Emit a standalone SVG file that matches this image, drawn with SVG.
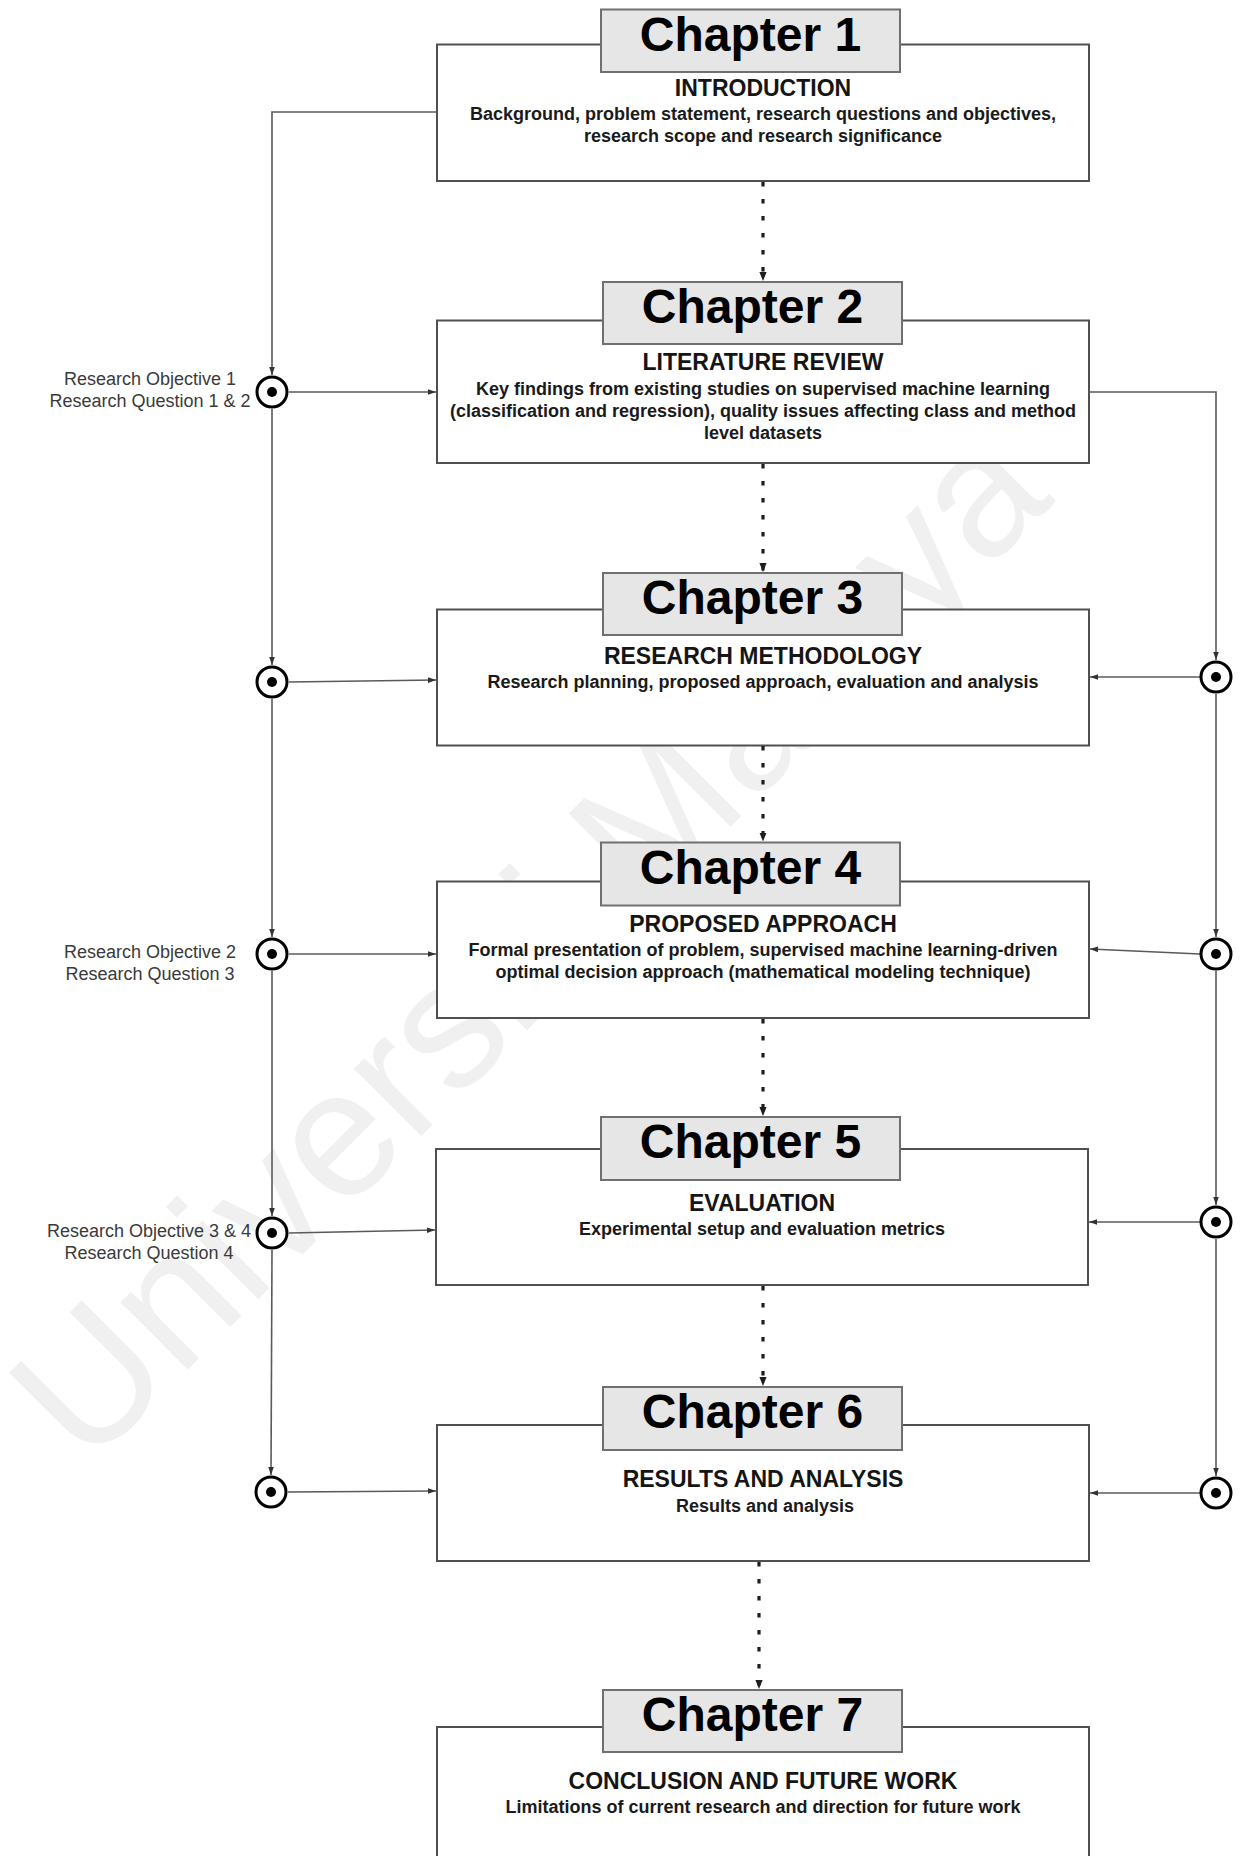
<svg xmlns="http://www.w3.org/2000/svg" width="1246" height="1856" viewBox="0 0 1246 1856">
  <defs>
    <style>
      .outer { fill: #ffffff; stroke: #505050; stroke-width: 2; }
      .head { fill: #e6e6e6; stroke: #707070; stroke-width: 2; }
      .chap { font-family: "Liberation Sans", Arial, sans-serif; font-weight: bold; font-size: 48px; fill: #000; text-anchor: middle; }
      .title { font-family: "Liberation Sans", Arial, sans-serif; font-weight: bold; font-size: 23px; fill: #151515; text-anchor: middle; }
      .body { font-family: "Liberation Sans", Arial, sans-serif; font-weight: bold; font-size: 18px; fill: #1a1a1a; text-anchor: middle; }
      .label { font-family: "Liberation Sans", Arial, sans-serif; font-size: 18px; fill: #3a3a3a; text-anchor: middle; }
      .wire { fill: none; stroke: #5a5a5a; stroke-width: 1.6; marker-end: url(#ah); }
      .flow { fill: none; stroke: #1e1e1e; stroke-width: 3.2; stroke-dasharray: 4.5 12.5; marker-end: url(#ahd); }
      .ring { fill: #fff; stroke: #000; stroke-width: 3; }
      .dot { fill: #000; }
      .mark { font-family: "Liberation Sans", Arial, sans-serif; font-size: 180px; fill: #f0f0f0; text-anchor: middle; }
    </style>
    <marker id="ah" viewBox="0 0 10 10" refX="10" refY="5" markerWidth="8" markerHeight="8" markerUnits="userSpaceOnUse" orient="auto">
      <path d="M0,1.5 L10,5 L0,8.5 z" fill="#333"/>
    </marker>
    <marker id="ahd" viewBox="0 0 10 10" refX="10" refY="5" markerWidth="9" markerHeight="9" markerUnits="userSpaceOnUse" orient="auto">
      <path d="M0,1 L10,5 L0,9 z" fill="#1e1e1e"/>
    </marker>
  </defs>

  <rect x="0" y="0" width="1246" height="1856" fill="#ffffff"/>

  <!-- faint background watermark -->
  <text class="mark" x="532" y="1002" transform="rotate(-45 532 946)">Universiti Malaya</text>

  <!-- chapter boxes -->
  <g id="chapter1">
    <rect class="outer" x="437" y="44.5" width="652" height="136.5"/>
    <rect class="head" x="601" y="9.5" width="299" height="62.5"/>
    <text class="chap" x="750.5" y="51">Chapter 1</text>
    <text class="title" x="763" y="96">INTRODUCTION</text>
    <text class="body" x="763" y="120">Background, problem statement, research questions and objectives,</text>
    <text class="body" x="763" y="142">research scope and research significance</text>
  </g>

  <g id="chapter2">
    <rect class="outer" x="437" y="320.5" width="652" height="142.5"/>
    <rect class="head" x="603" y="282" width="299" height="62"/>
    <text class="chap" x="752.5" y="323">Chapter 2</text>
    <text class="title" x="763" y="370">LITERATURE REVIEW</text>
    <text class="body" x="763" y="395">Key findings from existing studies on supervised machine learning</text>
    <text class="body" x="763" y="417">(classification and regression), quality issues affecting class and method</text>
    <text class="body" x="763" y="439">level datasets</text>
  </g>

  <g id="chapter3">
    <rect class="outer" x="437" y="609.5" width="652" height="136"/>
    <rect class="head" x="603" y="573" width="299" height="62"/>
    <text class="chap" x="752.5" y="614">Chapter 3</text>
    <text class="title" x="763" y="664">RESEARCH METHODOLOGY</text>
    <text class="body" x="763" y="688">Research planning, proposed approach, evaluation and analysis</text>
  </g>

  <g id="chapter4">
    <rect class="outer" x="437" y="881.5" width="652" height="136.5"/>
    <rect class="head" x="601" y="842.5" width="299" height="63"/>
    <text class="chap" x="750.5" y="884">Chapter 4</text>
    <text class="title" x="763" y="932">PROPOSED APPROACH</text>
    <text class="body" x="763" y="956">Formal presentation of problem, supervised machine learning-driven</text>
    <text class="body" x="763" y="978">optimal decision approach (mathematical modeling technique)</text>
  </g>

  <g id="chapter5">
    <rect class="outer" x="436" y="1149" width="652" height="136"/>
    <rect class="head" x="601" y="1117" width="299" height="63"/>
    <text class="chap" x="750.5" y="1158">Chapter 5</text>
    <text class="title" x="762" y="1211">EVALUATION</text>
    <text class="body" x="762" y="1235">Experimental setup and evaluation metrics</text>
  </g>

  <g id="chapter6">
    <rect class="outer" x="437" y="1425" width="652" height="136"/>
    <rect class="head" x="603" y="1387" width="299" height="63"/>
    <text class="chap" x="752.5" y="1428">Chapter 6</text>
    <text class="title" x="763" y="1487">RESULTS AND ANALYSIS</text>
    <text class="body" x="765" y="1512">Results and analysis</text>
  </g>

  <g id="chapter7">
    <rect class="outer" x="437" y="1727" width="652" height="200"/>
    <rect class="head" x="603" y="1690" width="299" height="62"/>
    <text class="chap" x="752.5" y="1731">Chapter 7</text>
    <text class="title" x="763" y="1789">CONCLUSION AND FUTURE WORK</text>
    <text class="body" x="763" y="1813">Limitations of current research and direction for future work</text>
  </g>

  <!-- objective / question labels -->
  <g id="labels">
    <text class="label" x="150" y="385">Research Objective 1</text>
    <text class="label" x="150" y="407">Research Question 1 &amp; 2</text>
    <text class="label" x="150" y="958">Research Objective 2</text>
    <text class="label" x="150" y="980">Research Question 3</text>
    <text class="label" x="149" y="1237">Research Objective 3 &amp; 4</text>
    <text class="label" x="149" y="1259">Research Question 4</text>
  </g>

  <!-- connectors -->
  <g id="connectors">
    <!-- chapter sequence -->
    <path class="flow" d="M763,182 V281"/>
    <path class="flow" d="M763,464 V572"/>
    <path class="flow" d="M763,746 V841.5"/>
    <path class="flow" d="M763,1019 V1116"/>
    <path class="flow" d="M763,1286 V1386"/>
    <path class="flow" d="M759,1562 V1689"/>

    <!-- left trunk -->
    <path class="wire" d="M437,112 H272 V375"/>
    <path class="wire" d="M272,409 V665"/>
    <path class="wire" d="M272,699 V937"/>
    <path class="wire" d="M272,971 V1216"/>
    <path class="wire" d="M272,1250 L271,1475"/>

    <!-- left feeds -->
    <path class="wire" d="M289,392 H436"/>
    <path class="wire" d="M289,682 L436,680"/>
    <path class="wire" d="M289,954 H436"/>
    <path class="wire" d="M289,1233 L435,1230"/>
    <path class="wire" d="M288,1492 L436,1491"/>

    <!-- right trunk -->
    <path class="wire" d="M1089,392 H1216 V660"/>
    <path class="wire" d="M1216,694 V937"/>
    <path class="wire" d="M1216,971 V1205"/>
    <path class="wire" d="M1216,1239 V1476"/>

    <!-- right feeds -->
    <path class="wire" d="M1200,677 H1090"/>
    <path class="wire" d="M1200,954 L1090,949"/>
    <path class="wire" d="M1200,1222 H1089"/>
    <path class="wire" d="M1200,1493 H1090"/>
  </g>

  <!-- junction points -->
  <g id="junctions">
    <g id="jl1"><circle class="ring" cx="272" cy="392" r="15"/><circle class="dot" cx="272" cy="392" r="5"/></g>
    <g id="jl2"><circle class="ring" cx="272" cy="682" r="15"/><circle class="dot" cx="272" cy="682" r="5"/></g>
    <g id="jl3"><circle class="ring" cx="272" cy="954" r="15"/><circle class="dot" cx="272" cy="954" r="5"/></g>
    <g id="jl4"><circle class="ring" cx="272" cy="1233" r="15"/><circle class="dot" cx="272" cy="1233" r="5"/></g>
    <g id="jl5"><circle class="ring" cx="271" cy="1492" r="15"/><circle class="dot" cx="271" cy="1492" r="5"/></g>
    <g id="jr1"><circle class="ring" cx="1216" cy="677" r="15"/><circle class="dot" cx="1216" cy="677" r="5"/></g>
    <g id="jr2"><circle class="ring" cx="1216" cy="954" r="15"/><circle class="dot" cx="1216" cy="954" r="5"/></g>
    <g id="jr3"><circle class="ring" cx="1216" cy="1222" r="15"/><circle class="dot" cx="1216" cy="1222" r="5"/></g>
    <g id="jr4"><circle class="ring" cx="1216" cy="1493" r="15"/><circle class="dot" cx="1216" cy="1493" r="5"/></g>
  </g>
</svg>
